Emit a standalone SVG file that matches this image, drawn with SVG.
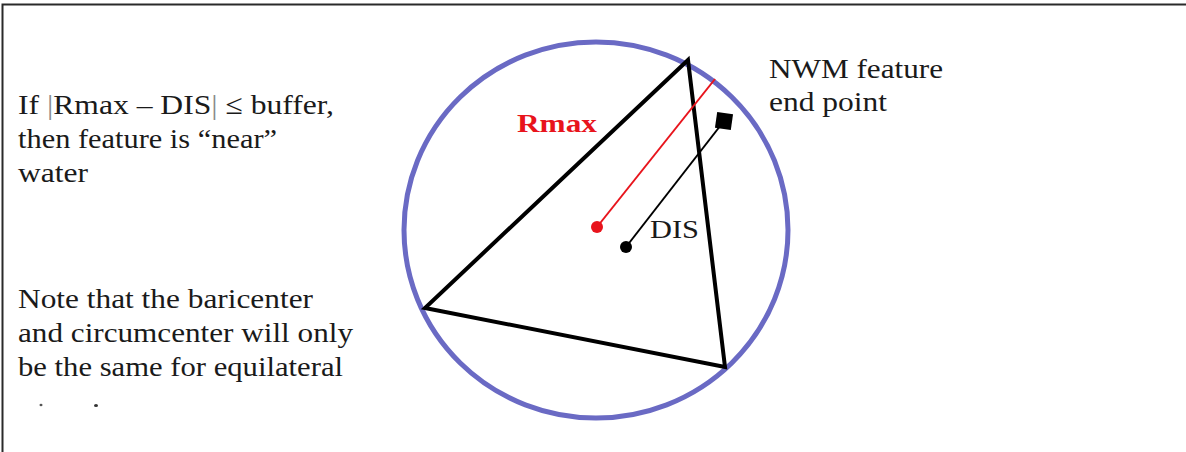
<svg xmlns="http://www.w3.org/2000/svg" width="1186" height="452" viewBox="0 0 1186 452">
  <style>
    .txt { font-family: "Liberation Serif", "Times New Roman", serif; font-size: 28px; fill: #1a1a1a; }
    .frame { stroke: #2a2a2a; stroke-width: 2; fill: none; }
    .tri { stroke: #000; stroke-width: 4; fill: none; stroke-linejoin: miter; }
    .circ { stroke: #6a6ac4; stroke-width: 5; fill: none; }
  </style>
  <rect width="1186" height="452" fill="#ffffff"/>
  <g id="frame">
    <path class="frame" d="M2.5,452 V4.5 H1186"/>
  </g>
  <g id="left-text">
    <text class="txt" x="18" y="114" textLength="316" lengthAdjust="spacingAndGlyphs">If <tspan fill="#8a8a8a">|</tspan>Rmax – DIS<tspan fill="#8a8a8a">|</tspan> ≤ buffer,</text>
    <text class="txt" x="18" y="148" textLength="259" lengthAdjust="spacingAndGlyphs">then feature is “near”</text>
    <text class="txt" x="18" y="182" textLength="70" lengthAdjust="spacingAndGlyphs">water</text>
    <text class="txt" x="18" y="308" textLength="295" lengthAdjust="spacingAndGlyphs">Note that the baricenter</text>
    <text class="txt" x="18" y="342" textLength="335" lengthAdjust="spacingAndGlyphs">and circumcenter will only</text>
    <text class="txt" x="18" y="376" textLength="325" lengthAdjust="spacingAndGlyphs">be the same for equilateral</text>
    <ellipse cx="41" cy="405" rx="1.5" ry="1.2" fill="#555"/>
    <ellipse cx="96" cy="405.5" rx="2" ry="1.6" fill="#333"/>
  </g>
  <g id="circumcircle">
    <ellipse class="circ" cx="596" cy="230" rx="192" ry="188"/>
  </g>
  <g id="triangle">
    <polygon class="tri" points="688,60 425,308 725,367"/>
  </g>
  <g id="connectors">
    <line x1="597" y1="227" x2="715" y2="79" stroke="#e8141c" stroke-width="2"/>
    <line x1="626" y1="247" x2="724" y2="121" stroke="#000" stroke-width="2"/>
  </g>
  <g id="circumcenter">
    <circle cx="597" cy="227" r="6" fill="#e8141c"/>
  </g>
  <g id="baricenter">
    <circle cx="626" cy="247" r="6" fill="#000"/>
  </g>
  <g id="end-point">
    <rect x="716" y="113" width="16" height="16" fill="#000" transform="rotate(8 724 121)"/>
  </g>
  <g id="labels">
    <text x="517" y="132" font-family="Liberation Serif, serif" font-weight="bold" font-size="26" fill="#e8141c" textLength="80" lengthAdjust="spacingAndGlyphs">Rmax</text>
    <text class="txt" x="650" y="238" font-size="26" textLength="49" lengthAdjust="spacingAndGlyphs" style="font-size:26px">DIS</text>
    <text class="txt" x="769" y="78" textLength="174" lengthAdjust="spacingAndGlyphs">NWM feature</text>
    <text class="txt" x="769" y="111" textLength="118" lengthAdjust="spacingAndGlyphs">end point</text>
  </g>
</svg>
